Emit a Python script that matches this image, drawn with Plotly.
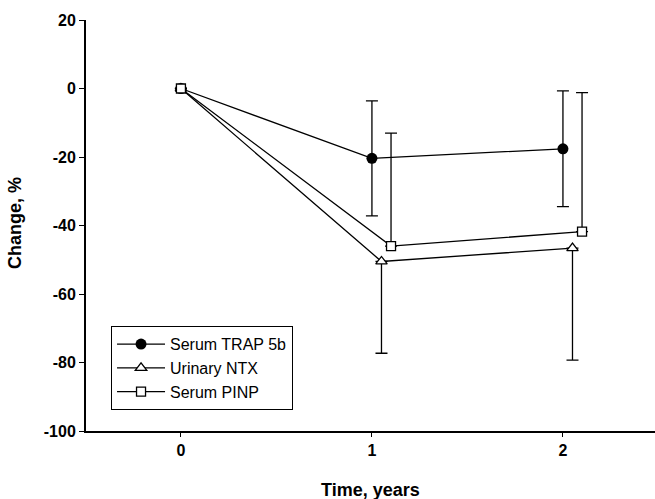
import plotly.graph_objects as go

# Data
x_trap = [0, 1, 2]
y_trap = [0, -20.4, -17.6]
e_trap = [0, 16.8, 16.9]

x_ntx = [0, 1.05, 2.05]
y_ntx = [0, -50.5, -46.6]
e_ntx_minus = [0, 26.8, 32.7]

x_pinp = [0, 1.1, 2.1]
y_pinp = [0, -46.0, -41.8]
e_pinp_plus = [0, 33.0, 40.6]

zeros = [0, 0, 0]

x_ticks = [0, 1, 2]
x_ticklabels = ["0", "1", "2"]
y_ticks = [20, 0, -20, -40, -60, -80, -100]
y_ticklabels = ["20", "0", "-20", "-40", "-60", "-80", "-100"]

FONT = "Liberation Sans, Arial, sans-serif"

fig = go.Figure()

fig.add_trace(go.Scatter(
    x=x_trap, y=y_trap, mode="lines+markers", name="Serum TRAP 5b",
    line=dict(color="black", width=1.3),
    marker=dict(symbol="circle", size=11, color="black"),
    error_y=dict(type="data", array=e_trap, symmetric=True, color="black", thickness=1.3, width=6),
))
fig.add_trace(go.Scatter(
    x=x_ntx, y=y_ntx, mode="lines+markers", name="Urinary NTX",
    line=dict(color="black", width=1.3),
    marker=dict(symbol="triangle-up", size=10, color="white", line=dict(color="black", width=1.3)),
    error_y=dict(type="data", array=zeros, arrayminus=e_ntx_minus, symmetric=False, color="black", thickness=1.3, width=6),
))
fig.add_trace(go.Scatter(
    x=x_pinp, y=y_pinp, mode="lines+markers", name="Serum PINP",
    line=dict(color="black", width=1.3),
    marker=dict(symbol="square", size=9, color="white", line=dict(color="black", width=1.3)),
    error_y=dict(type="data", array=e_pinp_plus, arrayminus=zeros, symmetric=False, color="black", thickness=1.3, width=6),
))

fig.update_layout(
    width=655, height=499,
    margin=dict(l=86, r=0, t=20, b=68, autoexpand=False),
    paper_bgcolor="white", plot_bgcolor="white",
    font=dict(family=FONT, color="black"),
    showlegend=True,
    legend=dict(
        x=0.044, y=0.255, xanchor="left", yanchor="top",
        bordercolor="black", borderwidth=1, bgcolor="white",
        font=dict(size=16, family=FONT, color="black"),
        tracegroupgap=0, itemwidth=48,
    ),
    annotations=[
        dict(text="<b>Time, years</b>", xref="paper", yref="paper",
             x=0.5, y=-(490 - 431) / 411, xanchor="center", yanchor="middle",
             showarrow=False, font=dict(size=18, family=FONT, color="black")),
        dict(text="<b>Change, %</b>", xref="paper", yref="paper",
             x=(15 - 86) / 569, y=(431 - 223) / 411, xanchor="center", yanchor="middle",
             textangle=-90, showarrow=False, font=dict(size=18, family=FONT, color="black")),
    ],
)
fig.update_xaxes(
    range=[-0.497, 2.482], tickvals=x_ticks, ticktext=x_ticklabels, automargin=False,
    showline=True, linecolor="black", linewidth=2, mirror=False,
    ticks="outside", ticklen=4, tickwidth=1, tickcolor="black",
    showgrid=False, zeroline=False,
    tickfont=dict(size=16, family=FONT, weight="bold"),
)
fig.update_yaxes(
    range=[-100, 20], tickvals=y_ticks, ticktext=y_ticklabels, automargin=False,
    showline=True, linecolor="black", linewidth=2,
    ticks="outside", ticklen=5, tickwidth=1, tickcolor="black",
    showgrid=False, zeroline=False,
    tickfont=dict(size=16, family=FONT, weight="bold"),
)

fig.write_html(
    "out.html",
    config={"displayModeBar": False},
    post_script="document.body.style.margin='0';document.body.style.overflow='hidden';",
)
